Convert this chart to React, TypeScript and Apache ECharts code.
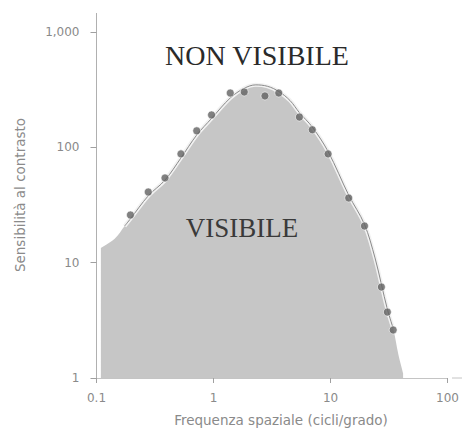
import React, { useEffect, useRef } from "react";
import * as echarts from "echarts";

// Measured (spatial frequency in cycles/degree, contrast sensitivity)
const dotFreq = [0.195, 0.277, 0.385, 0.527, 0.719, 0.962, 1.39, 1.83, 2.75, 3.61, 5.42, 6.98, 9.53, 14.3, 19.5, 27.2, 30.6, 34.3];
const dotSens = [25.9, 41.0, 54.3, 87.7, 139, 191, 296, 302, 279, 296, 183, 142, 87.7, 36.4, 20.8, 6.15, 3.73, 2.61];

// Contrast sensitivity envelope (visible region)
const curveFreq = [0.109, 0.143, 0.174, 0.195, 0.277, 0.385, 0.527, 0.719, 0.962, 1.39, 1.83, 2.3, 2.9, 3.61, 4.5, 5.42, 6.98, 9.53, 14.3, 19.5, 24, 27.2, 30.6, 34.3, 38, 41.7];
const curveSens = [13.4, 16.1, 20.8, 24, 38, 52, 81, 128, 178, 268, 325, 348, 338, 305, 255, 200, 150, 92, 38.5, 21.5, 11, 6.5, 3.95, 2.7, 1.6, 1.1];

const xTickValues = [0.1, 1, 10, 100];
const yTickValues = [1, 10, 100, 1000];

const labelNonVisible = "NON VISIBILE";
const labelVisible = "VISIBILE";
const xTitle = "Frequenza spaziale (cicli/grado)";
const yTitle = "Sensibilità al contrasto";

export default function App() {
  const ref = useRef<HTMLDivElement>(null);
  useEffect(() => {
    if (!ref.current) return;
    const chart = echarts.init(ref.current, undefined, { renderer: "svg" });
    const curve = curveFreq.map((f, i) => [f, curveSens[i]]);
    const lineCurve = curve.slice(2, 24);
    const dots = dotFreq.map((f, i) => [f, dotSens[i]]);
    const sans = "DejaVu Sans";
    chart.setOption({
      animation: false,
      backgroundColor: "#fff",
      grid: { left: 96.5, right: 10, top: 32, bottom: 54 },
      xAxis: {
        type: "log",
        logBase: 10,
        min: xTickValues[0],
        max: xTickValues[xTickValues.length - 1],
        axisLine: { show: true, lineStyle: { color: "#c4c4c4", width: 1 } },
        axisTick: { show: true, length: 5, lineStyle: { color: "#a0a0a0" } },
        minorTick: { show: false },
        splitLine: { show: false },
        axisLabel: {
          color: "#8a8a8a",
          fontFamily: sans,
          fontSize: 12,
          margin: 14,
          formatter: (v: number) => String(v),
        },
      },
      yAxis: {
        type: "log",
        logBase: 10,
        min: yTickValues[0],
        max: yTickValues[yTickValues.length - 1],
        axisLine: { show: true, lineStyle: { color: "#b0b0b0", width: 1 } },
        axisTick: { show: true, length: 6, lineStyle: { color: "#a0a0a0" } },
        minorTick: { show: false },
        splitLine: { show: false },
        axisLabel: {
          color: "#8a8a8a",
          fontFamily: sans,
          fontSize: 12,
          margin: 17,
          formatter: (v: number) => v.toLocaleString("en-US"),
        },
      },
      series: [
        {
          type: "line",
          data: curve,
          smooth: 0.35,
          showSymbol: false,
          symbol: "none",
          lineStyle: { width: 0, opacity: 0 },
          areaStyle: { color: "#c6c6c6", opacity: 1, origin: "start" },
          z: 1,
        },
        {
          type: "line",
          data: lineCurve,
          smooth: 0.35,
          symbol: "none",
          lineStyle: { width: 4, color: "#f2f2f2" },
          z: 2,
        },
        {
          type: "line",
          data: lineCurve,
          smooth: 0.35,
          symbol: "none",
          lineStyle: { width: 1, color: "#8a8a8a" },
          z: 3,
        },
        {
          type: "scatter",
          data: dots,
          symbol: "circle",
          symbolSize: 8,
          itemStyle: { color: "#626262", borderColor: "rgba(255,255,255,0.7)", borderWidth: 1 },
          z: 4,
        },
      ],
      graphic: [
        { type: "line", shape: { x1: 96.5, y1: 13, x2: 96.5, y2: 32 }, style: { stroke: "#b0b0b0", lineWidth: 1 } },
        { type: "line", shape: { x1: 452, y1: 378, x2: 462, y2: 378 }, style: { stroke: "#c4c4c4", lineWidth: 1 } },
        {
          type: "text",
          x: 257,
          y: 55,
          z: 10,
          style: {
            text: labelNonVisible,
            fontFamily: "Liberation Serif",
            fontSize: 28,
            fill: "#2a2a2a",
            textAlign: "center",
            textVerticalAlign: "middle",
          },
        },
        {
          type: "text",
          x: 242,
          y: 228,
          z: 10,
          style: {
            text: labelVisible,
            fontFamily: "Liberation Serif",
            fontSize: 27,
            fill: "#3a3a3a",
            textAlign: "center",
            textVerticalAlign: "middle",
          },
        },
        {
          type: "text",
          x: 281,
          y: 420,
          style: {
            text: xTitle,
            fontFamily: sans,
            fontSize: 13.5,
            fill: "#8a8a8a",
            textAlign: "center",
            textVerticalAlign: "middle",
          },
        },
        {
          type: "text",
          x: 20,
          y: 195,
          rotation: Math.PI / 2,
          style: {
            text: yTitle,
            fontFamily: sans,
            fontSize: 13.5,
            fill: "#8a8a8a",
            textAlign: "center",
            textVerticalAlign: "middle",
          },
        },
      ],
    });
    return () => chart.dispose();
  }, []);
  return <div ref={ref} style={{ position: "absolute", left: 0, top: 0, width: 462, height: 432 }} />;
}
